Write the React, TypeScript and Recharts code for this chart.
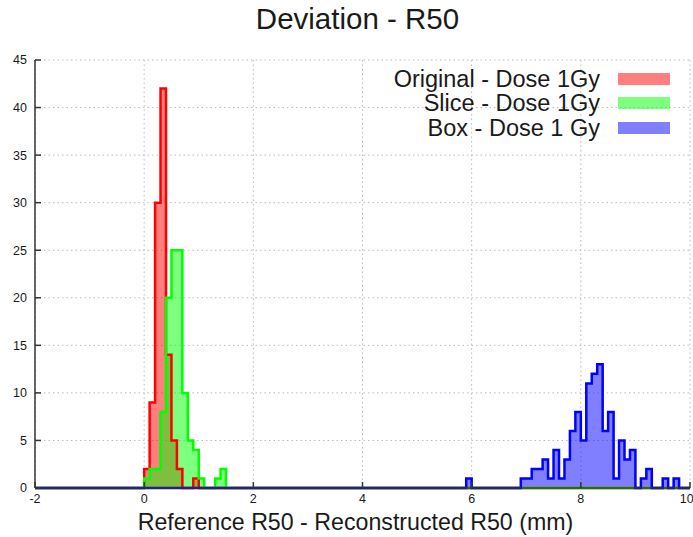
import { Area, CartesianGrid, ComposedChart, Legend, Line, XAxis, YAxis } from "recharts";

const binWidth = 0.1;
const xTicks = [-2, 0, 2, 4, 6, 8, 10];
const yTicks = [0, 5, 10, 15, 20, 25, 30, 35, 40, 45];

// counts per 0.1 mm bin, starting at the given left edge
const originalStart = 0.0;
const originalCounts = [2, 9, 30, 42, 14, 5, 2, 0, 0, 1];
const sliceStart = 0.0;
const sliceCounts = [1, 2, 2, 8, 20, 25, 25, 10, 5, 4, 1, 0, 0, 1, 2];
const boxStart = 5.9;
const boxCounts = [
  1, 0, 0, 0, 0, 0, 0, 0, 0, 0, 1, 1, 2, 2, 3, 1, 4, 1, 3, 6, 8, 5, 11, 12, 13, 6, 8, 1, 5, 3, 4, 0, 1, 2, 0,
  0, 1, 0, 1,
];

const series = [
  { key: "original", name: "Original - Dose 1Gy", color: "#ff0000", start: originalStart, counts: originalCounts },
  { key: "slice", name: "Slice - Dose 1Gy", color: "#00ff00", start: sliceStart, counts: sliceCounts },
  { key: "box", name: "Box - Dose 1 Gy", color: "#0000ff", start: boxStart, counts: boxCounts },
];

function countAt(start: number, counts: number[], x: number) {
  const i = Math.round((x - start) / binWidth);
  return i >= 0 && i < counts.length ? counts[i] : 0;
}

const edgeCount = Math.round((xTicks[xTicks.length - 1] - xTicks[0]) / binWidth) + 1;
const table = Array.from({ length: edgeCount }, (_, i) => {
  const x = Math.round((xTicks[0] + i * binWidth) * 10) / 10;
  const row: Record<string, number> = { x };
  series.forEach((s) => {
    row[s.key] = countAt(s.start, s.counts, x);
  });
  return row;
});

const font = "'Liberation Sans', Arial, Helvetica, sans-serif";
const axisColor = "#333333";

function HistLegend() {
  return (
    <div style={{ fontFamily: font, fontSize: 23.5, color: "#1a1a1a" }}>
      {series.map((s) => (
        <div
          key={s.key}
          style={{ display: "flex", alignItems: "center", justifyContent: "flex-end", height: 24.5 }}
        >
          <span style={{ whiteSpace: "nowrap", lineHeight: "24px" }}>{s.name}</span>
          <span
            style={{
              display: "inline-block",
              width: 52,
              height: 12,
              marginLeft: 18,
              background: s.color,
              opacity: 0.5,
            }}
          />
        </div>
      ))}
    </div>
  );
}

export default function App() {
  return (
    <div style={{ position: "absolute", left: 0, top: 0, width: 693, height: 537, fontFamily: font }}>
      <div
        style={{
          position: "absolute",
          left: 357.5,
          top: 4.3,
          transform: "translateX(-50%)",
          fontSize: 29.5,
          lineHeight: "29.5px",
          whiteSpace: "nowrap",
          color: "#1a1a1a",
        }}
      >
        Deviation - R50
      </div>
      <ComposedChart
        width={693}
        height={537}
        data={table}
        margin={{ top: 60, right: 3, bottom: 0, left: 0 }}
        style={{ fontFamily: font }}
      >
        <CartesianGrid stroke="#bbbbbb" strokeDasharray="1.5 3" />
        <XAxis
          dataKey="x"
          type="number"
          domain={[-2, 10]}
          ticks={xTicks}
          allowDataOverflow
          height={49}
          tickSize={-6}
          tickMargin={12}
          stroke={axisColor}
          strokeWidth={1.5}
          tick={{ fill: "#1a1a1a", fontSize: 12.5 }}
          label={{
            value: "Reference R50 - Reconstructed R50 (mm)",
            position: "insideBottom",
            offset: 7,
            dx: -7,
            style: { fontSize: 23.2, fill: "#1a1a1a" },
          }}
        />
        <XAxis
          xAxisId="top"
          orientation="top"
          dataKey="x"
          type="number"
          domain={[-2, 10]}
          ticks={xTicks}
          allowDataOverflow
          height={0}
          tick={false}
          tickSize={-6}
          stroke={axisColor}
          strokeWidth={1.5}
        />
        <YAxis
          type="number"
          domain={[0, 45]}
          ticks={yTicks}
          width={35}
          tickSize={-6}
          tickMargin={14}
          stroke={axisColor}
          strokeWidth={1.5}
          tick={{ fill: "#1a1a1a", fontSize: 12.5 }}
        />
        <YAxis
          yAxisId="right"
          orientation="right"
          type="number"
          domain={[0, 45]}
          ticks={yTicks}
          width={0}
          tick={false}
          tickSize={-6}
          stroke={axisColor}
          strokeWidth={1.5}
        />
        {series.map((s) => (
          <Area
            key={`fill-${s.key}`}
            type="stepAfter"
            dataKey={s.key}
            name={s.name}
            fill={s.color}
            fillOpacity={0.5}
            stroke="none"
            legendType="none"
            isAnimationActive={false}
          />
        ))}
        {series.map((s) => (
          <Line
            key={`line-${s.key}`}
            type="stepAfter"
            dataKey={s.key}
            name={s.name}
            stroke={s.color}
            strokeWidth={2.5}
            dot={false}
            activeDot={false}
            legendType="none"
            isAnimationActive={false}
          />
        ))}
        <Legend
          layout="horizontal"
          verticalAlign="middle"
          align="center"
          content={() => <HistLegend />}
          wrapperStyle={{ position: "absolute", top: 66.5, left: 330, width: 340, height: 74 }}
        />
      </ComposedChart>
    </div>
  );
}
